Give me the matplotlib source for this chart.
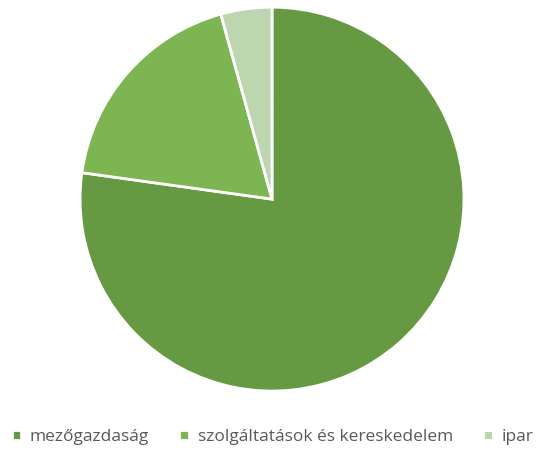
import matplotlib
matplotlib.use("Agg")
import matplotlib.pyplot as plt

labels = ["mezőgazdaság", "szolgáltatások és kereskedelem", "ipar"]
values = [77.2, 18.5, 4.3]
colors = ["#669A42", "#7DB552", "#BCD6B0"]

plt.rcParams["font.family"] = ["Open Sans", "DejaVu Sans"]

fig = plt.figure(figsize=(5.45, 4.49), dpi=100)
ax = fig.add_axes([0.1468, 0.129, 0.7046, 0.855])

wedges, _ = ax.pie(
    values,
    colors=colors,
    startangle=90,
    counterclock=False,
    wedgeprops={"edgecolor": "white", "linewidth": 2},
)
ax.set_xlim(-1, 1)
ax.set_ylim(-1, 1)
ax.set_aspect("equal")

fig.legend(
    wedges,
    labels,
    loc="center",
    bbox_to_anchor=(0.5, 0.026),
    ncol=3,
    frameon=False,
    fontsize=12.5,
    labelcolor="#595959",
    handlelength=0.55,
    handleheight=0.55,
    handletextpad=0.5,
    columnspacing=1.75,
    borderaxespad=0,
)

fig.savefig("out.png", dpi=100)
